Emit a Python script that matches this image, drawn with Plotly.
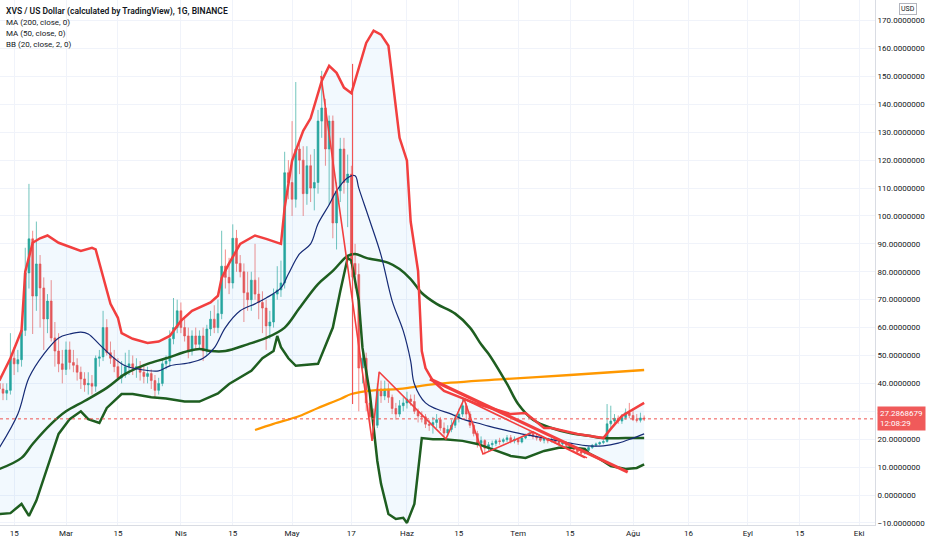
import pandas as pd
import plotly.graph_objects as go

# daily candles, 11 Feb 2021 .. 4 Aug 2021
DATES = pd.date_range("2021-02-11", "2021-08-04", freq="D")

OPENS = [
    40, 38, 36.5, 37.5, 49, 47, 48.5, 59, 79.6, 91.8, 71.3, 82.8, 74.2, 63.1, 69.5, 56.3, 51.6, 47,
    45, 52, 47.5, 46.5, 44, 41.6, 39.5, 40, 39, 49, 49.5, 60, 51, 49, 46, 42, 43, 46, 47, 45.5,
    46, 44, 42.5, 43.5, 41, 37.5, 40, 47, 48, 56, 60,
    66, 60, 57, 51.6, 57, 54, 57, 51.6, 59.5, 63, 60, 65, 82, 78, 76, 92, 83, 80, 72.5, 70, 77,
    72, 69, 67, 60.6, 62, 72, 73.5, 76, 115.5,
    112, 106, 124, 120, 108, 118, 110, 112, 134, 138.7, 124, 134, 97.5, 109, 124, 112, 115, 83,
    79, 45.5, 49, 33, 28, 25, 38, 35.5, 38, 35, 31, 29, 32,
    33, 34.4, 33.5, 30, 28.3, 28, 25.4, 25, 26, 27, 24, 22.2, 23.5, 25, 27.5, 29, 32, 29, 25, 22,
    18.5, 19.5, 16.8, 18, 18.5, 19.4, 19.2, 19.8, 20.5, 19.4,
    20, 19, 20.4, 21.5, 22, 21, 20.4, 19.6, 20, 19.4, 19.8, 19, 18.3, 18.8, 17.8, 17, 16.3, 15.5,
    15, 16, 17, 17.8, 18.3, 18.8, 19.2, 25.5, 26.5, 27.5, 26.5, 27.8, 29.5,
    28.5, 27, 26.8, 27.6,
]
HIGHS = [
    42, 40, 40, 58, 53, 52, 62, 88.6, 111.5, 94.7, 98, 86, 78, 72, 77, 62, 58, 52,
    55, 55, 52, 49, 46, 44, 44, 43, 50, 52, 66, 63, 55, 52, 49, 48, 51, 52, 50, 49,
    48, 47, 46, 45, 43, 42, 49, 50, 59, 70.6, 70,
    69, 63, 60, 59, 60, 59, 60, 61, 66, 68, 70, 94.7, 88, 85, 97, 95, 86, 83, 80, 80,
    90, 78, 73, 70, 66, 74, 82, 84, 123,
    120, 134, 148, 128, 125, 125, 122, 124, 138, 152, 142, 136, 136, 112, 128, 128, 122, 118,
    90, 83, 55, 51, 38, 31, 40, 41, 41, 40, 36, 33, 34,
    35, 37, 36, 36, 31, 30, 29, 27, 28, 29, 28, 26, 25, 27, 29, 31, 35, 33, 30, 26,
    23, 21, 20, 19, 19.5, 20, 20.5, 20.5, 21.5, 21.5,
    21, 20.5, 21, 22, 23, 22.5, 22, 21, 20.5, 20.5, 20.5, 20.2, 19.5, 19.5, 19.2, 18.3, 17.6, 16.8,
    16, 16.5, 17.5, 18.3, 18.8, 19.2, 19.8, 32.6, 32, 29, 28.5, 29, 31,
    33, 31, 29, 29.5, 28.5,
]
LOWS = [
    35, 34, 34, 36, 43, 44, 46, 57, 74, 57.7, 66, 60, 52, 58, 55, 46, 44, 40,
    43, 45, 44, 41, 38, 37, 36, 36, 37, 46, 48, 50, 47, 44, 41, 40, 42, 43, 43, 42,
    41, 40, 40, 38, 35, 36, 39, 45, 46, 54, 58,
    58, 55, 49, 50, 52, 52, 48, 50, 57, 58, 58, 63, 74, 72, 74, 80, 78, 62, 66, 66,
    70, 63, 58, 52, 56, 60, 70, 71, 74,
    106, 100, 103, 115, 100, 104, 105, 102, 108, 128, 118, 104, 92, 88, 105, 108, 96, 78,
    74, 30, 40, 30, 25, 20, 24, 33, 34, 33, 29, 27, 28,
    30, 31, 32, 29, 26, 26, 24, 23, 22, 24, 23, 21, 21, 22.5, 24, 26, 28, 27, 24, 21,
    17, 16, 14.5, 15.5, 16.5, 17.5, 18, 18.5, 19, 18.5,
    18.5, 18, 18.5, 20, 21, 20, 19.5, 19, 18.5, 18.5, 18.8, 18.5, 17.8, 17.5, 17, 16.5, 15.8, 15,
    14, 14.5, 15, 16.5, 17.2, 17.8, 18.2, 18.8, 24, 25, 25.5, 25.5, 27,
    27.5, 26.5, 26, 26, 26.5,
]
CLOSES = [
    38, 36.5, 37.5, 49, 47, 48.5, 59, 79.6, 91.8, 71.3, 82.8, 74.2, 63.1, 69.5, 56.3, 51.6, 47, 45,
    52, 47.5, 46.5, 44, 41.6, 39.5, 40, 39, 49, 49.5, 60, 51, 49, 46, 42, 43, 46, 47, 45.5, 46,
    44, 42.5, 43.5, 41, 37.5, 40, 47, 48, 56, 60, 66,
    60, 57, 51.6, 57, 54, 57, 51.6, 59.5, 63, 60, 65, 82, 78, 76, 92, 83, 80, 72.5, 70, 77,
    72, 69, 67, 60.6, 62, 72, 73.5, 76, 115.5,
    112, 106, 124, 120, 108, 118, 110, 112, 134, 138.7, 124, 134, 97.5, 109, 124, 112, 115, 83,
    79, 45.5, 49, 33, 28, 25, 38, 35.5, 38, 35, 31, 29, 32, 33,
    34.4, 33.5, 30, 28.3, 28, 25.4, 25, 26, 27, 24, 22.2, 23.5, 25, 27.5, 29, 32, 29, 25, 22, 18.5,
    19.5, 16.8, 18, 18.5, 19.4, 19.2, 19.8, 20.5, 19.4, 20,
    19, 20.4, 21.5, 22, 21, 20.4, 19.6, 20, 19.4, 19.8, 19, 18.3, 18.8, 17.8, 17, 16.3, 15.5, 15,
    16, 17, 17.8, 18.3, 18.8, 19.2, 25.5, 26.5, 27.5, 26.5, 27.8, 29.5, 28.5,
    27, 26.8, 27.6, 27.2868679,
]

# Bollinger bands (20, 2)
BB_UPPER_DATES = [
    "2021-02-11", "2021-02-14", "2021-02-17", "2021-02-18", "2021-02-20", "2021-02-22", "2021-02-24",
    "2021-02-27", "2021-03-05", "2021-03-08", "2021-03-09", "2021-03-11", "2021-03-13", "2021-03-15",
    "2021-03-16", "2021-03-19", "2021-03-23", "2021-03-26", "2021-03-29", "2021-04-01", "2021-04-04",
    "2021-04-09", "2021-04-11", "2021-04-12", "2021-04-14", "2021-04-17", "2021-04-21", "2021-04-24",
    "2021-04-28", "2021-04-29", "2021-05-01", "2021-05-04", "2021-05-06", "2021-05-09", "2021-05-11",
    "2021-05-13", "2021-05-15", "2021-05-17", "2021-05-19", "2021-05-21", "2021-05-23", "2021-05-25",
    "2021-05-27", "2021-05-28", "2021-05-30", "2021-06-01", "2021-06-02", "2021-06-04", "2021-06-05",
    "2021-06-06", "2021-06-08", "2021-06-11", "2021-06-16", "2021-06-20", "2021-06-29", "2021-07-03",
    "2021-07-08", "2021-07-10", "2021-07-17", "2021-07-24", "2021-07-26", "2021-07-29", "2021-08-04",
]
BB_UPPER = [
    41, 49, 59, 80, 90.4, 92, 93, 90.4, 87.5, 88.6, 88, 78, 68.5, 63.5, 58, 56, 54.5, 55, 57, 62.4,
    66, 69, 71.4, 77.8, 83, 90, 93, 91.8, 90, 103, 119.8, 130.5, 135, 148.4, 153.8, 151.3, 146, 144,
    153, 162, 166.4, 165, 161, 149.5, 128, 119.8, 98, 80.3, 51.6, 45.5, 40.9, 37.3, 34.8, 32.6, 29,
    29.4, 24, 24, 21.9, 20.4, 23.7, 28.3, 33,
]
BB_LOWER_DATES = [
    "2021-02-11", "2021-02-14", "2021-02-17", "2021-02-19", "2021-02-21", "2021-02-24", "2021-02-27",
    "2021-03-02", "2021-03-05", "2021-03-07", "2021-03-10", "2021-03-12", "2021-03-14", "2021-03-16",
    "2021-03-19", "2021-03-24", "2021-03-28", "2021-04-02", "2021-04-06", "2021-04-11", "2021-04-14",
    "2021-04-17", "2021-04-20", "2021-04-23", "2021-04-26", "2021-04-27", "2021-04-28", "2021-04-30",
    "2021-05-02", "2021-05-08", "2021-05-12", "2021-05-14", "2021-05-16", "2021-05-17", "2021-05-19",
    "2021-05-20", "2021-05-22", "2021-05-24", "2021-05-25", "2021-05-27", "2021-05-29", "2021-05-31",
    "2021-06-01", "2021-06-03", "2021-06-04", "2021-06-05", "2021-06-08", "2021-06-11", "2021-06-16",
    "2021-06-20", "2021-06-23", "2021-06-29", "2021-07-03", "2021-07-08", "2021-07-12", "2021-07-16",
    "2021-07-19", "2021-07-20", "2021-07-23", "2021-07-26", "2021-07-30", "2021-08-02", "2021-08-04",
]
BB_LOWER = [
    -6.8, -6.5, -3.2, -7.5, -2, 9.7, 21.9, 27.2, 30, 27.2, 25.8, 31.2, 33.7, 36.2, 36.2, 35, 34.6,
    33.5, 33.5, 36.4, 39.8, 42, 44.5, 49, 51.6, 57, 53, 49, 46.3, 47, 60, 73, 85, 84, 69.6, 52.7,
    36.2, 12.2, 4, -6.8, -8.6, -8.2, -10, -3.2, 9.7, 20.4, 20, 20, 19.4, 18.3, 16.9, 14, 13.3, 15.8,
    16.9, 16.9, 16.5, 15, 12.9, 10.4, 9.3, 9.7, 11,
]
BB_BASIS_DATES = [
    "2021-02-11", "2021-02-16", "2021-02-19", "2021-02-23", "2021-02-27", "2021-03-02", "2021-03-05",
    "2021-03-07", "2021-03-10", "2021-03-14", "2021-03-17", "2021-03-21", "2021-03-26", "2021-03-29",
    "2021-04-03", "2021-04-07", "2021-04-10", "2021-04-13", "2021-04-17", "2021-04-21", "2021-04-24",
    "2021-04-28", "2021-04-30", "2021-05-03", "2021-05-06", "2021-05-08", "2021-05-11", "2021-05-13",
    "2021-05-16", "2021-05-18", "2021-05-19", "2021-05-22", "2021-05-25", "2021-05-28", "2021-05-31",
    "2021-06-02", "2021-06-03", "2021-06-06", "2021-06-09", "2021-06-13", "2021-06-16", "2021-06-20",
    "2021-06-23", "2021-06-26", "2021-07-01", "2021-07-08", "2021-07-15", "2021-07-20", "2021-07-24",
    "2021-07-28", "2021-08-01", "2021-08-04",
]
BB_BASIS = [
    16.9, 29, 42, 50.5, 56.3, 57.7, 58.4, 57.7, 54, 49, 46.3, 45, 44.5, 46.3, 47.3, 49, 52.7, 60, 66,
    68.5, 70.6, 74.2, 79.2, 86.4, 90, 97.2, 104, 109, 113.7, 114.4, 110, 98.2, 86, 69.6, 58.8, 48,
    39.8, 33, 30.8, 29, 27.2, 25.8, 24.7, 23.7, 22.2, 20.4, 18.6, 17.6, 17.6, 18.6, 20.4, 21.9,
]

# moving averages
MA50_DATES = [
    "2021-02-11", "2021-02-17", "2021-02-20", "2021-02-25", "2021-03-01", "2021-03-06", "2021-03-12",
    "2021-03-17", "2021-03-23", "2021-03-28", "2021-04-03", "2021-04-06", "2021-04-09", "2021-04-13",
    "2021-04-19", "2021-04-24", "2021-04-29", "2021-05-03", "2021-05-08", "2021-05-12", "2021-05-16",
    "2021-05-18", "2021-05-21", "2021-05-27", "2021-05-30", "2021-06-02", "2021-06-05", "2021-06-09",
    "2021-06-14", "2021-06-18", "2021-06-21", "2021-06-23", "2021-06-28", "2021-07-01", "2021-07-05",
    "2021-07-10", "2021-07-15", "2021-07-20", "2021-07-24", "2021-07-30", "2021-08-04",
]
MA50 = [
    9.3, 13.3, 18.3, 25.5, 30, 33.7, 38.4, 43.4, 47, 49, 51.6, 52.3, 51.6, 51.6, 54, 56.3, 60, 67,
    75.6, 80.3, 85.7, 86.4, 85, 83.2, 81, 77.4, 72.4, 68.5, 65, 60, 54, 50.6, 39.8, 32.6, 27, 24,
    22.2, 21.2, 20.4, 20.4, 20.4,
]
MA200_DATES = [
    "2021-04-21", "2021-04-26", "2021-05-03", "2021-05-08", "2021-05-14", "2021-05-17", "2021-05-23",
    "2021-05-30", "2021-06-09", "2021-06-28", "2021-07-15", "2021-08-04",
]
MA200 = [23.3, 25.5, 28.3, 31.2, 34.4, 36.2, 37.5, 38, 39.8, 41.6, 43, 44.8]

# hand drawn lines on the chart
ZIGZAG_DATES = [
    "2021-05-08 19:00", "2021-05-22 14:00", "2021-05-24 12:00", "2021-06-11 12:00",
    "2021-06-16 10:00", "2021-06-21 12:00", "2021-07-05 00:00", "2021-07-19 00:00",
]
ZIGZAG = [150.2, 19.4, 44.1, 20.1, 34.4, 14.7, 22.6, 13.3]
TREND_DATES = ["2021-06-07 05:00", "2021-07-30 14:00"]
TREND = [41.6, 8.2]
CHANNEL_DATES = ["2021-06-16 10:00", "2021-07-19 14:00"]
CHANNEL = [34.4, 13.3]
VLINE_DATES = ["2021-05-17 08:00", "2021-05-17 08:00"]
VLINE = [154.5, 32.6]

TICK_DATES = [
    "2021-02-15", "2021-03-01", "2021-03-15", "2021-04-01", "2021-04-15", "2021-05-01",
    "2021-05-17", "2021-06-01", "2021-06-15", "2021-07-01", "2021-07-15", "2021-08-01",
    "2021-08-16", "2021-09-01", "2021-09-15", "2021-10-01",
]
TICK_LABELS = ["15", "Mar", "15", "Nis", "15", "May", "17", "Haz", "15", "Tem", "15", "Ağu",
               "16", "Eyl", "15", "Eki"]

LEGEND_LINES = [
    "XVS / US Dollar (calculated by TradingView), 1G, BINANCE",
    "MA (200, close, 0)",
    "MA (50, close, 0)",
    "BB (20, close, 2, 0)",
]

UP = "#26a69a"
DOWN = "#ef5350"
RED = "#f23f3f"
GREEN = "#1e5e20"
FONT = "Roboto"


def line(x, y, color, width, shape="linear"):
    return go.Scatter(x=x, y=y, mode="lines", hoverinfo="skip",
                      line={"color": color, "width": width, "shape": shape})


def build_figure() -> go.Figure:
    fig = go.Figure()

    # band fill behind everything
    fig.add_trace(go.Scatter(x=BB_LOWER_DATES, y=BB_LOWER, mode="lines",
                             line={"width": 0}, hoverinfo="skip"))
    fig.add_trace(go.Scatter(x=BB_UPPER_DATES, y=BB_UPPER, mode="lines", fill="tonexty",
                             fillcolor="rgba(33,150,243,0.06)", line={"width": 0},
                             hoverinfo="skip"))

    fig.add_trace(go.Candlestick(
        x=DATES, open=OPENS, high=HIGHS, low=LOWS, close=CLOSES,
        increasing={"line": {"color": "rgba(38,166,154,0.65)", "width": 1}, "fillcolor": UP},
        decreasing={"line": {"color": "rgba(239,83,80,0.65)", "width": 1}, "fillcolor": DOWN},
        hoverinfo="skip",
    ))

    fig.add_trace(line(MA200_DATES, MA200, "#ff9800", 2.3, "spline"))
    fig.add_trace(line(MA50_DATES, MA50, GREEN, 2.5, "spline"))
    fig.add_trace(line(BB_BASIS_DATES, BB_BASIS, "#152a75", 1.2, "spline"))
    fig.add_trace(line(BB_UPPER_DATES, BB_UPPER, RED, 2.5))
    fig.add_trace(line(BB_LOWER_DATES, BB_LOWER, GREEN, 2.5))

    fig.add_trace(line(ZIGZAG_DATES, ZIGZAG, RED, 1.6))
    fig.add_trace(line(CHANNEL_DATES, CHANNEL, RED, 1.6))
    fig.add_trace(line(TREND_DATES, TREND, RED, 3.2))
    fig.add_trace(line(VLINE_DATES, VLINE, RED, 1))

    last = CLOSES[-1]
    fig.add_hline(y=last, line={"color": DOWN, "width": 1, "dash": "dot"})

    for i, text in enumerate(LEGEND_LINES):
        fig.add_annotation(
            xref="paper", yref="paper", x=0.004, y=0.978 - i * 0.021,
            xanchor="left", yanchor="middle", showarrow=False, text=text,
            font={"family": FONT, "size": 8.5 if i == 0 else 8, "color": "#131722",
                  "weight": 600 if i == 0 else 400},
        )

    fig.add_annotation(
        xref="paper", yref="y", x=1.002, y=last, xanchor="left", yanchor="middle",
        showarrow=False, text=f"{last:.7f}<br>12:08:29", align="left",
        bgcolor="#f05a5a", borderpad=2, font={"family": FONT, "size": 8, "color": "white"},
    )
    fig.add_annotation(
        xref="paper", yref="paper", x=1.027, y=0.983, xanchor="left", yanchor="middle",
        showarrow=False, text="USD", bordercolor="#b2b5be", borderwidth=1, borderpad=1,
        bgcolor="white", font={"family": FONT, "size": 7, "color": "#131722"},
    )

    fig.update_layout(
        width=932, height=550,
        margin={"l": 0, "r": 57, "t": 0, "b": 25},
        paper_bgcolor="white", plot_bgcolor="white",
        showlegend=False,
        font={"family": FONT, "size": 8, "color": "#131722"},
        xaxis={
            "type": "date",
            "range": ["2021-02-11 04:30", "2021-10-05 07:00"],
            "rangeslider": {"visible": False},
            "tickmode": "array", "tickvals": TICK_DATES, "ticktext": TICK_LABELS,
            "showgrid": True, "gridcolor": "#f0f3fa", "zeroline": False,
            "showline": True, "linecolor": "#d9dce3", "ticks": "",
            "tickfont": {"size": 8},
        },
        yaxis={
            "side": "right", "range": [-10.75, 177.4], "dtick": 10, "tick0": 0,
            "tickformat": ".7f", "showgrid": True, "gridcolor": "#f0f3fa",
            "zeroline": False, "showline": True, "linecolor": "#d9dce3", "ticks": "",
            "tickfont": {"size": 8},
        },
    )
    return fig


def main():
    fig = build_figure()
    # the page's default body margin would push the chart 8px off the window
    fig.write_html("out.html", config={"displayModeBar": False},
                   post_script="document.body.style.margin = '0px';")


if __name__ == "__main__":
    main()
